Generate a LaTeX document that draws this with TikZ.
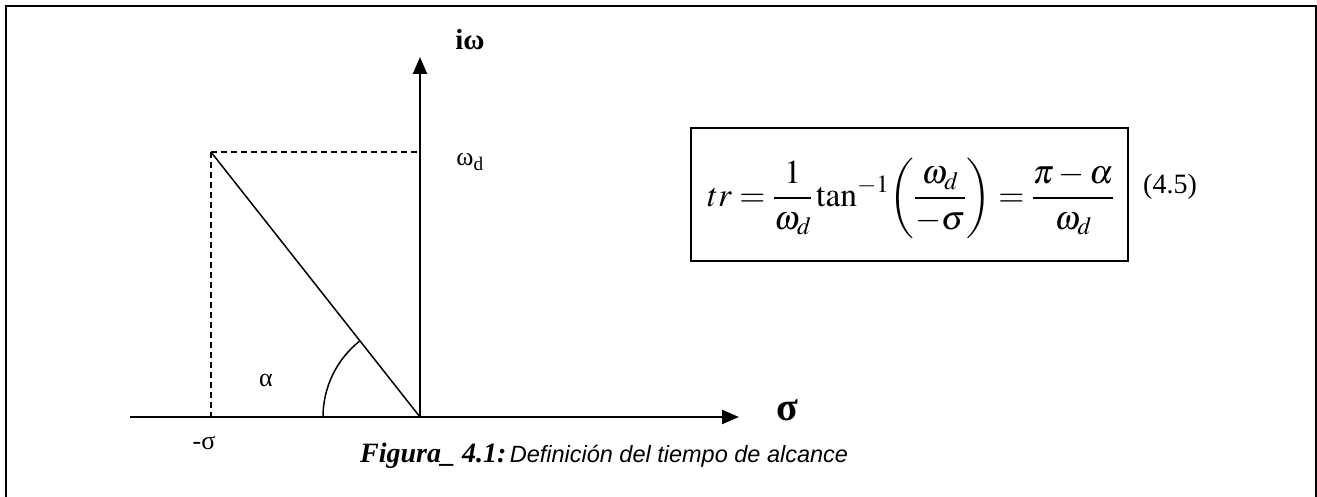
\documentclass[tikz,border=0pt]{standalone}
\usepackage{mathptmx}
\usepackage{fontspec}
\setmainfont{Liberation Serif}
\setsansfont{Liberation Sans}
\usetikzlibrary{arrows.meta}
\begin{document}
\begin{tikzpicture}[x=1pt,y=-1pt,
  axisline/.style={line width=2.4pt,-{Triangle[length=17pt,width=14pt]}},
  guide/.style={line width=1.3pt,dash pattern=on 6pt off 4pt},
  thinline/.style={line width=1.5pt},
  lbl/.style={inner sep=0pt,font=\fontsize{26}{30}\selectfont}]
\useasboundingbox (0,0) rectangle (1317,497);
\fill[white] (0,0) rectangle (1317,497);
\clip (0,0) rectangle (1317,497);
\draw[line width=2pt] (6,520) -- (6,6) -- (1316,6) -- (1316,520);
\coordinate (O) at (420,417);
\coordinate (P) at (211,152);
\coordinate (Q) at (420,152);
\coordinate (R) at (211,417);
\coordinate (xs) at (130,417);
\coordinate (xe) at (739,417);
\coordinate (ye) at (420,57);
\coordinate (A) at (323,417);
\draw[axisline] (xs) -- (xe);
\draw[axisline] (O) -- (ye);
\draw[guide] (P) -- (Q);
\draw[guide] (P) -- (R);
\draw[thinline] (P) -- (O);
\draw[thinline] (A) arc[start angle=180,end angle=231.7,radius=97];
\node[lbl,font=\fontsize{29}{32}\selectfont\bfseries] (iw) at (470,40) {iω};
\node[lbl] (wd) at (470,162) {ω\textsubscript{d}};
\node[lbl] (al) at (266,380) {α};
\node[lbl] (ms) at (204,443) {-σ};
\node[lbl,font=\fontsize{40}{44}\selectfont\bfseries] (sg) at (787,410) {σ};
\node[draw,line width=1.5pt,minimum width=437pt,minimum height=133pt,inner sep=0pt] (box) at (909.5,194.5) {};
\node[inner sep=0pt,font=\fontsize{33.5}{40}\selectfont] (eq) at (911,198)
  {$\displaystyle tr=\frac{1}{\omega_d}\tan^{-1}\!\left(\frac{\omega_d}{-\sigma}\right)=\frac{\pi-\alpha}{\omega_d}$};
\node[lbl,font=\fontsize{28}{32}\selectfont] (num) at (1170,187) {(4.5)};
\node[anchor=base west,inner sep=0pt] (cap) at (360,462)
  {{\fontsize{28}{32}\selectfont\bfseries\itshape Figura\_ 4.1:} {\fontsize{23.5}{28}\selectfont\sffamily\itshape Definición del tiempo de alcance}};
\end{tikzpicture}
\end{document}
